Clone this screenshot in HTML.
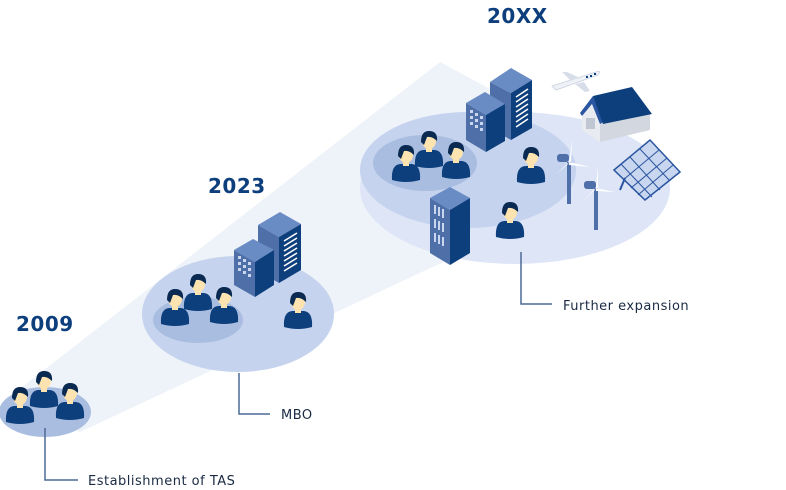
<!DOCTYPE html>
<html><head><meta charset="utf-8"><style>
html,body{margin:0;padding:0;background:#fff;}
svg{display:block;}
text{font-family:"DejaVu Sans","Liberation Sans",sans-serif;}
</style></head><body>
<svg width="786" height="490" viewBox="0 0 786 490" xmlns="http://www.w3.org/2000/svg">
<defs>
<symbol id="p" viewBox="-16 -24 32 40" overflow="visible">
<path d="M-14,14 Q-15,-1 -6,-2 L6,-2 Q15,-1 14,14 Q0,18 -14,14Z" fill="#0e3f7d"/>
<rect x="-3" y="-6" width="6" height="6" fill="#fde3b0"/>
<ellipse cx="0" cy="-11" rx="7" ry="8" fill="#fde3b0"/>
<path d="M-8,-10 Q-8,-21 0,-21 Q9,-21 8,-11 Q3,-16 -2,-15 L-5,-7Z" fill="#0a2a52"/>
</symbol>
</defs>
<polygon points="8,398 440,62 640,170 80,432" fill="#eef2f9"/>
<ellipse cx="515" cy="188" rx="155" ry="76" fill="#dde5f6"/>
<ellipse cx="468" cy="170" rx="108" ry="58" fill="#c5d3ee"/>
<ellipse cx="425" cy="163" rx="52" ry="28" fill="#a9bde0"/>
<ellipse cx="238" cy="314" rx="96" ry="58" fill="#c5d3ee"/>
<ellipse cx="198" cy="320" rx="45" ry="23" fill="#a9bde0"/>
<ellipse cx="45" cy="412" rx="46" ry="25" fill="#a9bde0"/>
<text x="16" y="331" font-size="20" font-weight="bold" fill="#0e3f7d" letter-spacing="0.5">2009</text>
<text x="208" y="193" font-size="20" font-weight="bold" fill="#0e3f7d" letter-spacing="0.5">2023</text>
<text x="487" y="23" font-size="20" font-weight="bold" fill="#0e3f7d" letter-spacing="0.5">20XX</text>
<g stroke="#4d6a96" stroke-width="1.5" fill="none">
<polyline points="45,428 45,480 78,480"/>
<polyline points="239,373 239,414 270,414"/>
<polyline points="521,252 521,304 552,304"/>
</g>
<g font-size="13" fill="#1a2a44" letter-spacing="0.5">
<text x="88" y="485">Establishment of TAS</text>
<text x="281" y="419">MBO</text>
<text x="563" y="310">Further expansion</text>
</g>
<polygon points="258,225 280,212 301,224 279,237" fill="#6a8cc4"/>
<polygon points="258,225 279,237 279,283 258,271" fill="#4f6fa8"/>
<polygon points="279,237 301,224 301,270 279,283" fill="#0e3f7d"/>
<g stroke="#fff" stroke-width="1.5"><line x1="284" y1="241" x2="297" y2="233"/><line x1="284" y1="246" x2="297" y2="238"/><line x1="284" y1="251" x2="297" y2="243"/><line x1="284" y1="256" x2="297" y2="248"/><line x1="284" y1="261" x2="297" y2="253"/><line x1="284" y1="266" x2="297" y2="258"/><line x1="284" y1="271" x2="297" y2="263"/></g>
<polygon points="234,250 253,239 274,250 255,262" fill="#6a8cc4"/>
<polygon points="234,250 255,262 255,297 234,285" fill="#4f6fa8"/>
<polygon points="255,262 274,250 274,285 255,297" fill="#0e3f7d"/>
<g fill="#c9d6ef"><rect x="238" y="256" width="3" height="3"/><rect x="243" y="259" width="3" height="3"/><rect x="248" y="262" width="3" height="3"/><rect x="238" y="262" width="3" height="3"/><rect x="243" y="265" width="3" height="3"/><rect x="248" y="268" width="3" height="3"/><rect x="238" y="268" width="3" height="3"/><rect x="243" y="271" width="3" height="3"/><rect x="248" y="274" width="3" height="3"/></g>
<polygon points="490,82 511,68 532,80 511,93" fill="#6a8cc4"/>
<polygon points="490,82 511,93 511,140 490,128" fill="#4f6fa8"/>
<polygon points="511,93 532,80 532,128 511,140" fill="#0e3f7d"/>
<g stroke="#fff" stroke-width="1.5"><line x1="516" y1="97" x2="528" y2="89"/><line x1="516" y1="102" x2="528" y2="94"/><line x1="516" y1="107" x2="528" y2="99"/><line x1="516" y1="112" x2="528" y2="104"/><line x1="516" y1="117" x2="528" y2="109"/><line x1="516" y1="122" x2="528" y2="114"/><line x1="516" y1="127" x2="528" y2="119"/></g>
<polygon points="466,103 485,92 505,104 486,115" fill="#6a8cc4"/>
<polygon points="466,103 486,115 486,152 466,140" fill="#4f6fa8"/>
<polygon points="486,115 505,104 505,141 486,152" fill="#0e3f7d"/>
<g fill="#c9d6ef"><rect x="470" y="110" width="3" height="3"/><rect x="475" y="113" width="3" height="3"/><rect x="480" y="116" width="3" height="3"/><rect x="470" y="116" width="3" height="3"/><rect x="475" y="119" width="3" height="3"/><rect x="480" y="122" width="3" height="3"/><rect x="470" y="122" width="3" height="3"/><rect x="475" y="125" width="3" height="3"/><rect x="480" y="128" width="3" height="3"/></g>
<polygon points="430,198 450,187 470,198 450,210" fill="#6a8cc4"/>
<polygon points="430,198 450,210 450,265 430,253" fill="#4f6fa8"/>
<polygon points="450,210 470,198 470,253 450,265" fill="#0e3f7d"/>
<g fill="#c9d6ef"><rect x="434" y="205" width="2" height="9"/><rect x="438" y="207" width="2" height="9"/><rect x="442" y="209" width="2" height="9"/><rect x="434" y="219" width="2" height="9"/><rect x="438" y="221" width="2" height="9"/><rect x="442" y="223" width="2" height="9"/><rect x="434" y="233" width="2" height="9"/><rect x="438" y="235" width="2" height="9"/><rect x="442" y="237" width="2" height="9"/></g>
<path d="M552,86 L596,72 Q602,70 598,75 L556,90 Z" fill="#eef1f6" stroke="#c9d2e0" stroke-width="0.8"/>
<path d="M570,80 L562,72 L567,72 L580,78Z M575,84 L585,92 L590,91 L584,82Z" fill="#d7deea"/>
<g fill="#0e3f7d"><rect x="586" y="76" width="2" height="2"/><rect x="590" y="75" width="2" height="2"/><rect x="594" y="73" width="2" height="2"/></g>
<!-- house -->
<polygon points="582,112 582,130 600,142 600,122 592,105" fill="#e8ebf0"/>
<polygon points="600,122 600,142 650,130 650,112" fill="#d3d8e0"/>
<polygon points="580,113 593,96 603,122 600,124 592,104 582,116" fill="#2a55a0"/>
<polygon points="593,96 632,87 652,114 603,124" fill="#0e3f7d"/>
<rect x="586" y="118" width="9" height="11" fill="#c0c7d2"/>
<polygon points="614,170 650,140 680,172 645,200" fill="#c9d6ef" stroke="#2a55a0" stroke-width="1.5"/>
<g stroke="#2a55a0" stroke-width="1"><line x1="623" y1="180" x2="659" y2="150"/><line x1="631" y1="188" x2="667" y2="158"/><line x1="638" y1="195" x2="673" y2="165"/><line x1="621" y1="164" x2="652" y2="197"/><line x1="630" y1="157" x2="660" y2="190"/><line x1="640" y1="149" x2="670" y2="181"/></g>
<line x1="625" y1="178" x2="620" y2="190" stroke="#2a55a0" stroke-width="2"/>
<g>
<rect x="567" y="162" width="4" height="42" fill="#4f6fa8"/>
<path d="M569,162 L572,140 L571,162Z M569,162 L590,167 L569,165Z M569,162 L555,175 L568,164Z" fill="#fff"/>
<rect x="557" y="154" width="12" height="8" rx="3" fill="#4f6fa8"/>
<rect x="594" y="188" width="4" height="42" fill="#4f6fa8"/>
<path d="M596,188 L598,166 L598,188Z M596,188 L615,192 L596,191Z M596,188 L582,202 L595,190Z" fill="#fff"/>
<rect x="584" y="181" width="12" height="8" rx="3" fill="#4f6fa8"/>
</g>
<use href="#p" x="20" y="408" width="32" height="40" transform="translate(-16,-24)"/>
<use href="#p" x="44" y="392" width="32" height="40" transform="translate(-16,-24)"/>
<use href="#p" x="70" y="404" width="32" height="40" transform="translate(-16,-24)"/>
<use href="#p" x="175" y="310" width="32" height="40" transform="translate(-16,-24)"/>
<use href="#p" x="198" y="295" width="32" height="40" transform="translate(-16,-24)"/>
<use href="#p" x="224" y="308" width="32" height="40" transform="translate(-16,-24)"/>
<use href="#p" x="298" y="313" width="32" height="40" transform="translate(-16,-24)"/>
<use href="#p" x="406" y="166" width="32" height="40" transform="translate(-16,-24)"/>
<use href="#p" x="429" y="152" width="32" height="40" transform="translate(-16,-24)"/>
<use href="#p" x="456" y="163" width="32" height="40" transform="translate(-16,-24)"/>
<use href="#p" x="531" y="168" width="32" height="40" transform="translate(-16,-24)"/>
<use href="#p" x="510" y="223" width="32" height="40" transform="translate(-16,-24)"/>
</svg>
</body></html>
